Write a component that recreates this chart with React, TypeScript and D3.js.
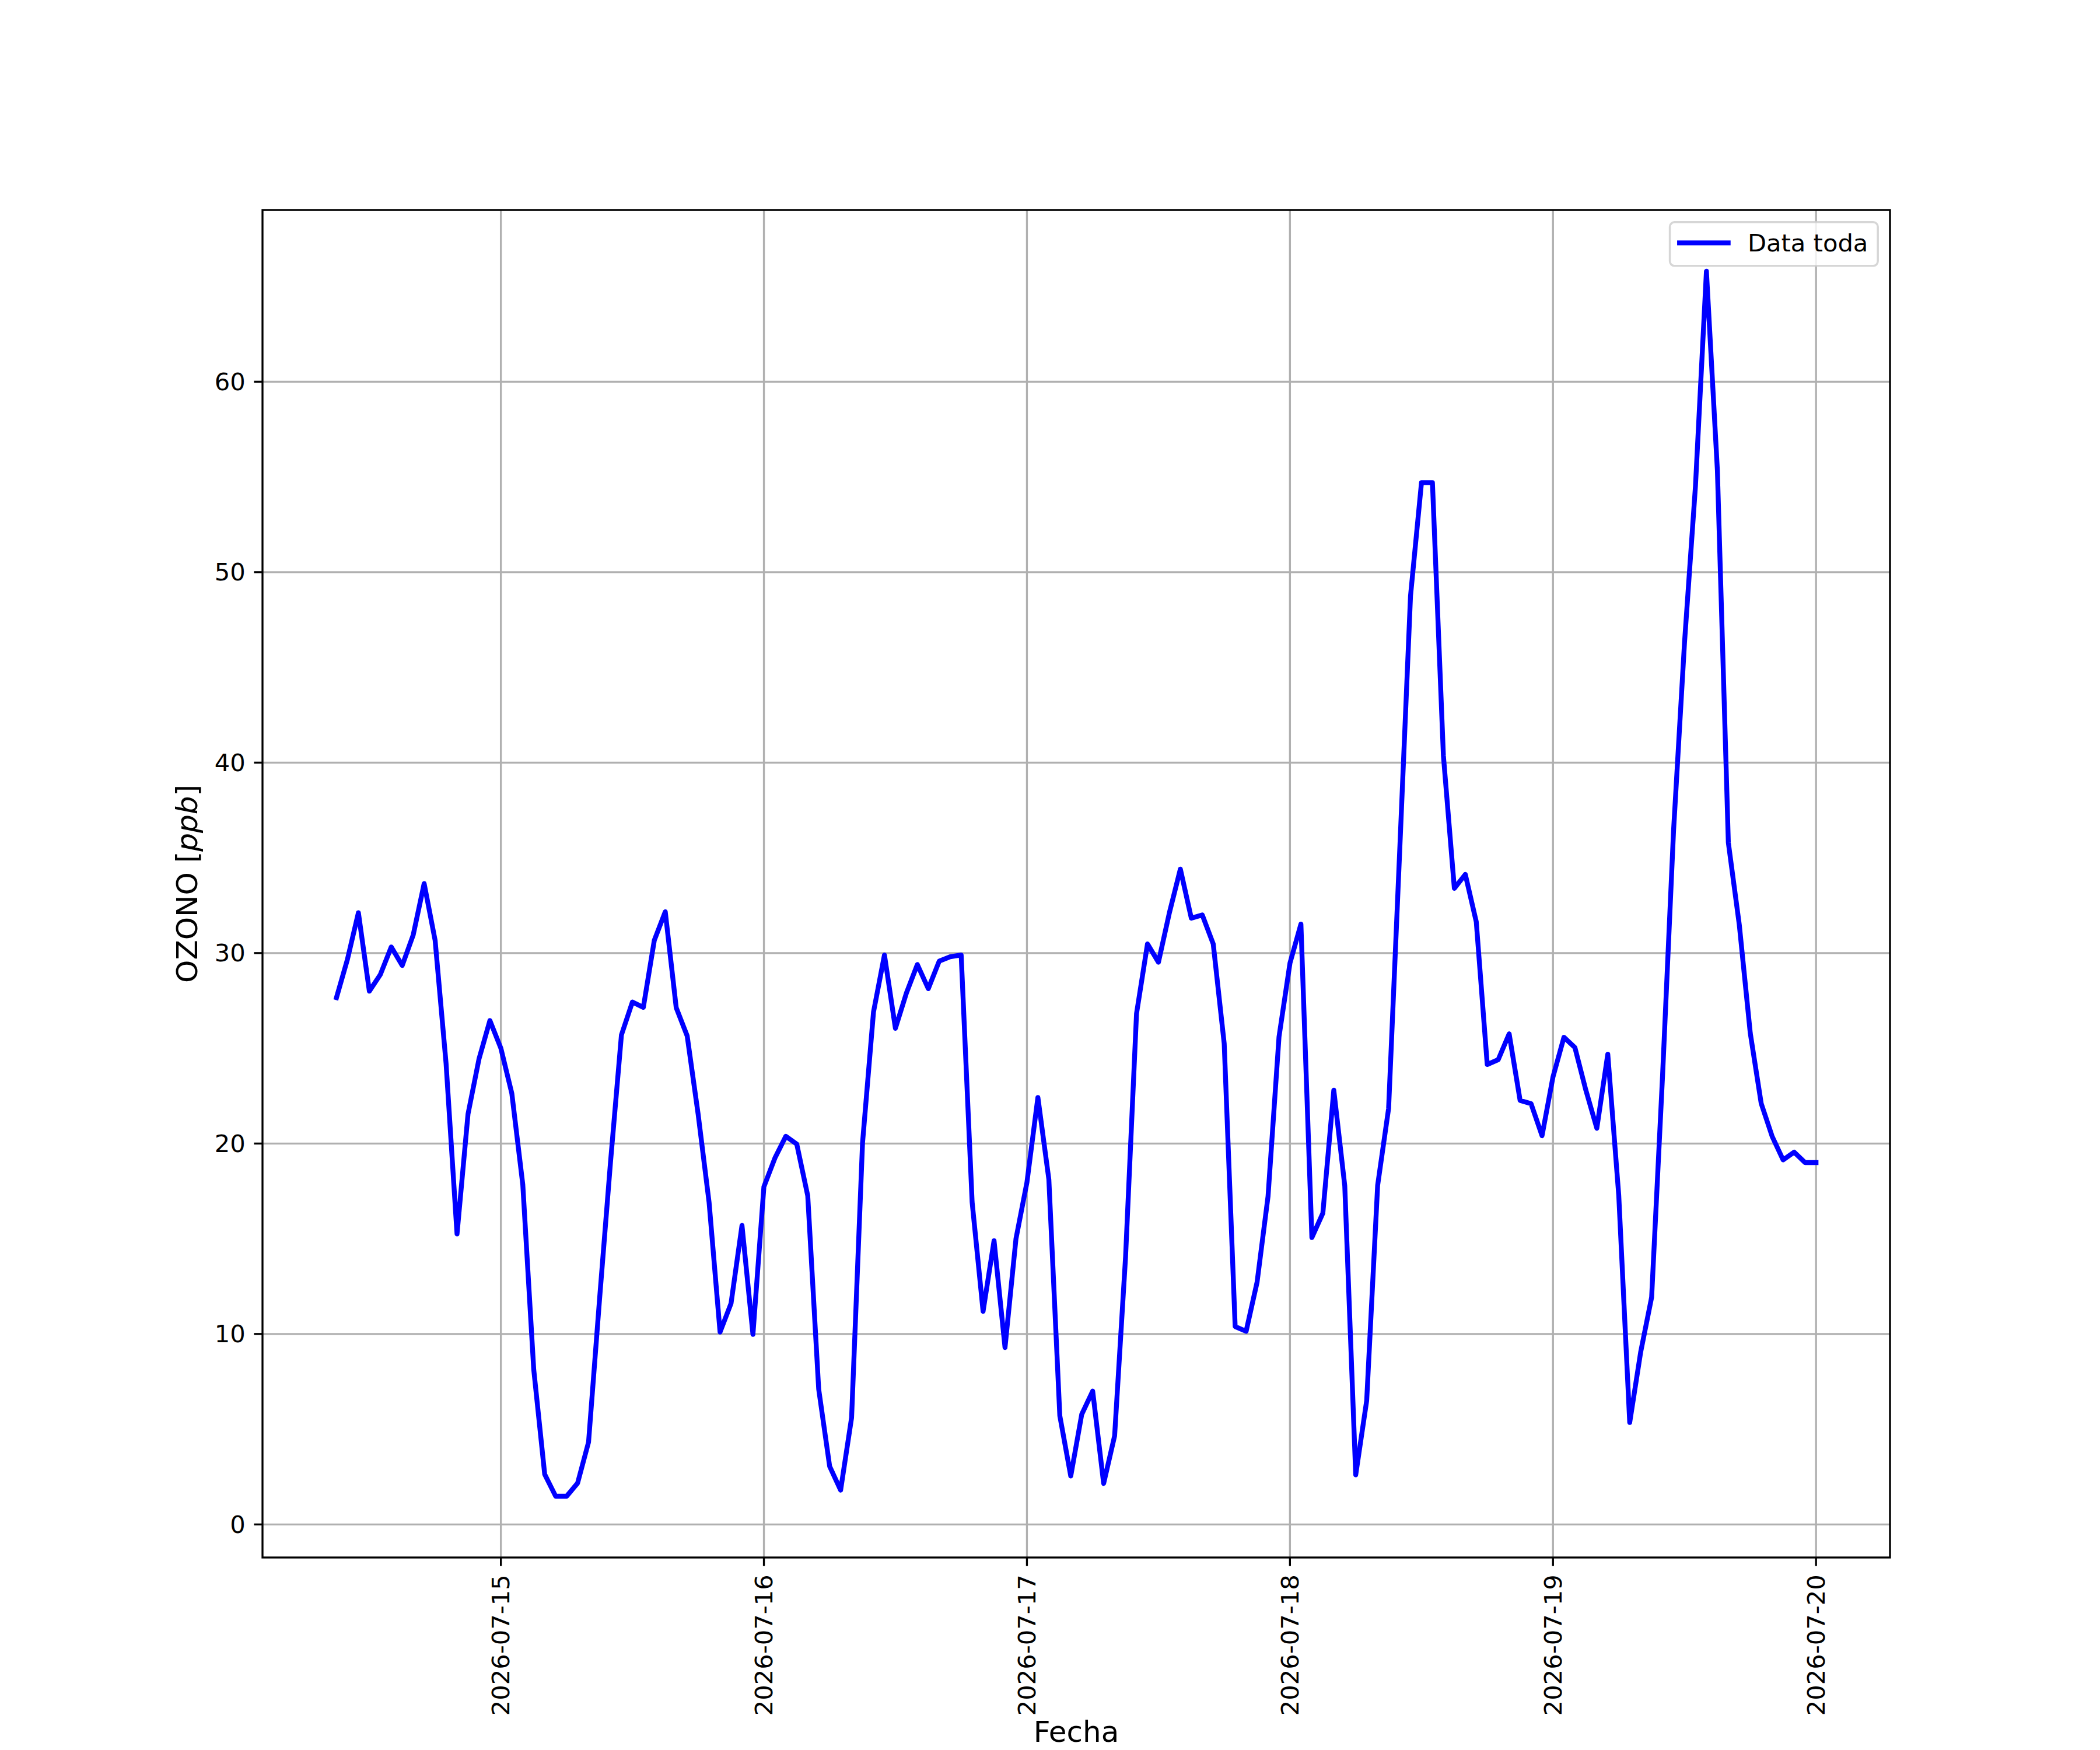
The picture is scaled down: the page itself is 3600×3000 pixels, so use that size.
import React from "react";
import * as d3 from "d3";

// Hourly ozone values (ppb), starting 2026-07-14 09:00 UTC
const day14: number[] = [27.66, 29.67, 32.12, 28.0, 28.87, 30.32, 29.35, 30.95, 33.65, 30.67, 24.2, 15.25, 21.54, 24.43, 26.46];
const day15: number[] = [25.0, 22.63, 17.84, 8.13, 2.63, 1.48, 1.48, 2.17, 4.32, 11.8, 19.0, 25.7, 27.43, 27.15, 30.67, 32.17, 27.13, 25.65, 21.54, 16.9, 10.1, 11.6, 15.7, 9.98];
const day16: number[] = [17.73, 19.23, 20.38, 19.97, 17.26, 7.1, 3.05, 1.8, 5.6, 20.04, 26.9, 29.9, 26.05, 27.9, 29.4, 28.13, 29.58, 29.81, 29.9, 16.92, 11.19, 14.9, 9.29, 15.0];
const day17: number[] = [17.96, 22.42, 18.12, 5.71, 2.54, 5.78, 7.0, 2.15, 4.65, 14.05, 26.82, 30.48, 29.52, 32.12, 34.41, 31.83, 32.0, 30.48, 25.25, 10.39, 10.14, 12.72, 17.23, 25.6];
const day18: number[] = [29.47, 31.52, 15.06, 16.34, 22.8, 17.78, 2.6, 6.5, 17.8, 21.84, 35.2, 48.75, 54.7, 54.7, 40.37, 33.4, 34.13, 31.64, 24.15, 24.4, 25.76, 22.26, 22.09, 20.41];
const day19: number[] = [23.5, 25.58, 25.04, 22.8, 20.8, 24.69, 17.28, 5.35, 9.05, 11.93, 23.6, 36.42, 46.3, 54.53, 65.8, 55.35, 35.8, 31.48, 25.8, 22.1, 20.37, 19.14, 19.55, 19.0];
const day20: number[] = [19.0];

const startTime = Date.UTC(2026, 6, 14, 9, 0, 0);
const xTickLabels: string[] = ["2026-07-15", "2026-07-16", "2026-07-17", "2026-07-18", "2026-07-19", "2026-07-20"];
const yTicks: number[] = [0, 10, 20, 30, 40, 50, 60];
const seriesName = "Data toda";
const xLabel = "Fecha";

const values = [...day14, ...day15, ...day16, ...day17, ...day18, ...day19, ...day20];
const HOUR = 3600 * 1000;
const points = values.map((v, i) => ({ t: new Date(startTime + i * HOUR), v }));

const W = 3600;
const H = 3000;
const L = 450;
const R = 3240;
const T = 360;
const B = 2670;
const PT = 300 / 72;
const FONT = "DejaVu Sans, Liberation Sans, sans-serif";

export default function App() {
  const tMin = points[0].t.getTime();
  const tMax = points[points.length - 1].t.getTime();
  const tPad = (tMax - tMin) * 0.05;
  const x = d3.scaleUtc().domain([new Date(tMin - tPad), new Date(tMax + tPad)]).range([L, R]);
  const vMin = d3.min(values) as number;
  const vMax = d3.max(values) as number;
  const vPad = (vMax - vMin) * 0.05;
  const y = d3.scaleLinear().domain([vMin - vPad, vMax + vPad]).range([B, T]);

  const line = d3
    .line<{ t: Date; v: number }>()
    .x((d) => x(d.t))
    .y((d) => y(d.v));

  const xTicks = xTickLabels.map((s) => ({ label: s, date: new Date(s + "T00:00:00Z") }));

  const tickLen = 3.5 * PT;
  const tickPad = 3.5 * PT;
  const tickFont = 10 * PT;
  const labelFont = 12 * PT;
  const gridW = 0.8 * PT;
  const lineW = 2 * PT;

  // legend geometry
  const lgFont = 10 * PT;
  const lgRight = R - 0.5 * lgFont;
  const lgTop = T + 0.5 * lgFont;
  const lgBorderPad = 0.4 * lgFont;
  const lgHandleLen = 2.0 * lgFont;
  const lgTextPad = 0.8 * lgFont;
  const lgTextW = 206.6;
  const lgW = lgBorderPad * 2 + lgHandleLen + lgTextPad + lgTextW;
  const lgH = 75;
  const lgLeft = lgRight - lgW;
  const lgMidY = lgTop + lgH / 2;

  return (
    <svg
      width={W}
      height={H}
      viewBox={`0 0 ${W} ${H}`}
      style={{ position: "absolute", left: 0, top: 0, background: "#ffffff" }}
      fontFamily={FONT}
    >
      <rect x={0} y={0} width={W} height={H} fill="#ffffff" />
      {/* grid */}
      <g stroke="#b0b0b0" strokeWidth={gridW}>
        {xTicks.map((d) => (
          <line key={"gx" + d.label} x1={x(d.date)} x2={x(d.date)} y1={T} y2={B} />
        ))}
        {yTicks.map((v) => (
          <line key={"gy" + v} x1={L} x2={R} y1={y(v)} y2={y(v)} />
        ))}
      </g>
      {/* data line */}
      <path
        d={line(points) || ""}
        fill="none"
        stroke="#0000ff"
        strokeWidth={lineW}
        strokeLinejoin="round"
        strokeLinecap="square"
      />
      {/* spines */}
      <rect x={L} y={T} width={R - L} height={B - T} fill="none" stroke="#000000" strokeWidth={gridW} />
      {/* y ticks */}
      <g>
        {yTicks.map((v) => (
          <g key={"yt" + v}>
            <line x1={L - tickLen} x2={L} y1={y(v)} y2={y(v)} stroke="#000" strokeWidth={gridW} />
            <text
              x={L - tickLen - tickPad}
              y={y(v)}
              textAnchor="end"
              dominantBaseline="central"
              fontSize={tickFont}
              fill="#000"
            >
              {String(v)}
            </text>
          </g>
        ))}
      </g>
      {/* x ticks */}
      <g>
        {xTicks.map((d) => (
          <g key={"xt" + d.label}>
            <line x1={x(d.date)} x2={x(d.date)} y1={B} y2={B + tickLen} stroke="#000" strokeWidth={gridW} />
            <text
              transform={`translate(${x(d.date)},${B + tickLen + tickPad}) rotate(-90)`}
              textAnchor="end"
              dominantBaseline="central"
              fontSize={tickFont}
              fill="#000"
            >
              {d.label}
            </text>
          </g>
        ))}
      </g>
      {/* axis labels */}
      <text x={(L + R) / 2} y={2986} textAnchor="middle" fontSize={labelFont} fill="#000">
        {xLabel}
      </text>
      <text transform={`translate(338,${(T + B) / 2}) rotate(-90)`} textAnchor="middle" fontSize={labelFont} fill="#000">
        {"OZONO ["}
        <tspan fontStyle="italic">ppb</tspan>
        {"]"}
      </text>
      {/* legend */}
      <g>
        <rect
          x={lgLeft}
          y={lgTop}
          width={lgW}
          height={lgH}
          rx={8}
          ry={8}
          fill="#ffffff"
          fillOpacity={0.8}
          stroke="#cccccc"
          strokeOpacity={0.8}
          strokeWidth={3.5}
        />
        <line
          x1={lgLeft + lgBorderPad}
          x2={lgLeft + lgBorderPad + lgHandleLen}
          y1={lgMidY - 2}
          y2={lgMidY - 2}
          stroke="#0000ff"
          strokeWidth={lineW}
          strokeLinecap="square"
        />
        <text
          x={lgLeft + lgBorderPad + lgHandleLen + lgTextPad}
          y={431}
          fontSize={lgFont}
          fill="#000"
        >
          {seriesName}
        </text>
      </g>
    </svg>
  );
}
